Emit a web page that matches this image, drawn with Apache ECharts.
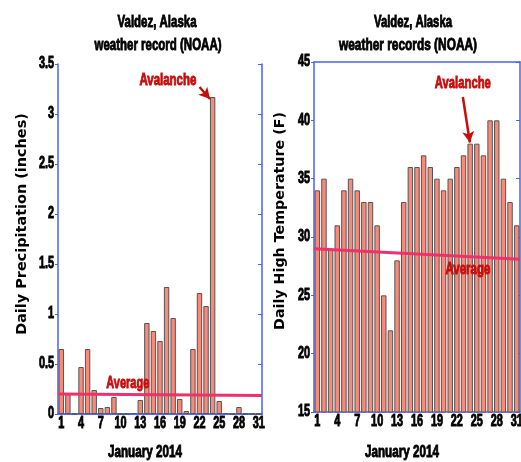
<!DOCTYPE html>
<html><head><meta charset="utf-8">
<script src="https://cdn.jsdelivr.net/npm/echarts@6/dist/echarts.min.js"></script>
<style>html,body{margin:0;padding:0;background:#fff}#c{width:521px;height:462px}</style>
</head><body><div id="c"></div>
<script>
var days = [];
for (var d = 1; d <= 31; d++) days.push(String(d));
var precip = [0.65,0.20,0,0.47,0.65,0.24,0.06,0.07,0.17,0,0,0.01,0.14,0.91,0.83,0.73,1.27,0.96,0.15,0.03,0.65,1.21,1.08,3.17,0.13,0.01,0,0.07,0,0,0];
var temp = [34,35,29,31,34,35,34,33,33,31,25,22,28,33,36,36,37,36,35,34,35,36,37,38,38,37,40,40,35,33,31];
var precipAvg = [[0.5,0.2],[31.5,0.185]];
var tempAvg = [[0.5,29.0],[31.5,28.1]];
var precipTicks = {min:0,max:3.5,interval:0.5};
var tempTicks = {min:15,max:45,interval:5};
var precipTickLabels = ['0','0.5','1','1.5','2','2.5','3','3.5'];
var tempTickLabels = ['15','20','25','30','35','40','45'];
var dayTickLabels = ['1','4','7','10','13','16','19','22','25','28','31'];

var axisBlue = '#4a63ee';
var tickNavy = '#1b2a9e';
var red = '#c80d0d';
var pink = '#f0306a';
var barColor = '#f78a79';

function xAxesFor(g){
  return [
    {type:'category',gridIndex:g,data:days,position:'bottom',
     axisLine:{lineStyle:{color:axisBlue,width:1.5}},
     axisTick:{inside:true,length:5,lineStyle:{color:tickNavy,width:1.5}},
     axisLabel:{show:false}},
    {type:'category',gridIndex:g,data:days,position:'top',
     axisLine:{lineStyle:{color:axisBlue,width:1.5}},
     axisTick:{inside:true,length:5,lineStyle:{color:axisBlue}},
     axisLabel:{show:false}},
    {type:'value',gridIndex:g,min:0.5,max:31.5,show:false}
  ];
}
function yAxesFor(g,t){
  return [
    {type:'value',gridIndex:g,min:t.min,max:t.max,interval:t.interval,
     axisLine:{show:true,lineStyle:{color:axisBlue,width:1.5}},
     axisTick:{show:true,inside:false,length:3,lineStyle:{color:axisBlue}},
     splitLine:{show:false},axisLabel:{show:false}},
    {type:'value',gridIndex:g,min:t.min,max:t.max,interval:t.interval,position:'right',
     axisLine:{show:true,lineStyle:{color:axisBlue,width:1.5}},
     axisTick:{show:true,inside:true,length:4,lineStyle:{color:axisBlue}},
     splitLine:{show:false},axisLabel:{show:false}}
  ];
}
function overlay(g,avg,arrowFrom,arrowTo){
  return {type:'line',xAxisIndex:g*3+2,yAxisIndex:g*2,data:avg,symbol:'none',
    lineStyle:{color:pink,width:3},z:5,silent:true,
    markLine:{symbol:['none','arrow'],symbolSize:[9,11],silent:true,
      lineStyle:{color:red,width:2.5,type:'solid'},label:{show:false},
      data:[[{coord:arrowFrom},{coord:arrowTo}]]}
  };
}

var chart = echarts.init(document.getElementById('c'),null,{renderer:'canvas'});
chart.setOption({
  animation:false,
  grid:[
    {left:58,top:64,width:204,height:350},
    {left:314,top:62,width:206,height:350}
  ],
  xAxis:xAxesFor(0).concat(xAxesFor(1)),
  yAxis:yAxesFor(0,precipTicks).concat(yAxesFor(1,tempTicks)),
  series:[
    {type:'bar',xAxisIndex:0,yAxisIndex:0,data:precip,barCategoryGap:'18%',
     itemStyle:{color:barColor,borderColor:'#555',borderWidth:1}},
    {type:'bar',xAxisIndex:3,yAxisIndex:2,data:temp,barCategoryGap:'18%',
     itemStyle:{color:barColor,borderColor:'#555',borderWidth:1}},
    overlay(0,precipAvg,[22.0,3.27],[23.6,3.15]),
    overlay(1,tempAvg,[22.9,42.0],[23.96,38.1])
  ]
});

var mctx = document.createElement('canvas').getContext('2d');
function measure(text,size,family){
  mctx.font = 'bold '+size+'px '+family;
  return mctx.measureText(text).width;
}
// condensed bold text drawn as real text; width optional target width
function nt(x,y,text,size,align,color,width){
  var sx = width ? width/measure(text,size,'"Liberation Sans"') : 0.68;
  return {type:'text',x:x,y:y,scaleX:sx,silent:true,z:100,
    style:{text:text,x:0,y:0,fontSize:size,fontWeight:'bold',fontFamily:'Liberation Sans',
      fill:color||'#000',stroke:color||'#000',lineWidth:0.9,
      align:align||'center',verticalAlign:'middle'}};
}
function vt(x,y,text,len){
  var size = 14*len/measure(text,14,'"DejaVu Sans"');
  return {type:'text',x:x,y:y,rotation:Math.PI/2,silent:true,z:100,
    style:{text:text,x:0,y:0,fontSize:size,fontWeight:'bold',fontFamily:'DejaVu Sans',
      fill:'#000',align:'center',verticalAlign:'middle'}};
}
var g = [];
g.push(nt(157,22,'Valdez, Alaska',17,'center','#000',79));
g.push(nt(158,45,'weather record (NOAA)',17,'center','#000',127));
g.push(nt(413,22,'Valdez, Alaska',17,'center','#000',78));
g.push(nt(408,45,'weather records (NOAA)',17,'center','#000',138));
g.push(vt(22,224,'Daily Precipitation (inches)',222));
g.push(vt(280,221,'Daily High Temperature (F)',218));
[[0,0,precipTickLabels],[3,2,tempTickLabels]].forEach(function(p){
  var xi=p[0], yi=p[1], labs=p[2];
  var left = chart.convertToPixel({xAxisIndex:xi+2}, 0.5);
  var right = chart.convertToPixel({xAxisIndex:xi+2}, 31.5);
  var bottom = chart.convertToPixel({yAxisIndex:yi}, Number(labs[0]));
  labs.forEach(function(s){
    g.push(nt(left-4, chart.convertToPixel({yAxisIndex:yi}, Number(s)), s, 16, 'right'));
  });
  dayTickLabels.forEach(function(s){
    g.push(nt(chart.convertToPixel({xAxisIndex:xi}, s), bottom+10, s, 16, 'center'));
  });
  g.push(nt((left+right)/2 - 15, 452, 'January 2014', 17, 'center','#000',74));
});
function at(si, v){ return chart.convertToPixel({seriesIndex:si}, v); }
var p;
p = at(2,[17.2,3.34]); g.push(nt(p[0],p[1],'Avalanche',17,'center',red,57));
p = at(2,[11.1,0.31]); g.push(nt(p[0],p[1],'Average',17,'center',red,43));
p = at(3,[22.9,43.2]); g.push(nt(p[0],p[1],'Avalanche',17,'center',red,56));
p = at(3,[23.66,27.26]); g.push(nt(p[0],p[1],'Average',17,'center',red,45));
chart.setOption({graphic:g});
</script></body></html>
